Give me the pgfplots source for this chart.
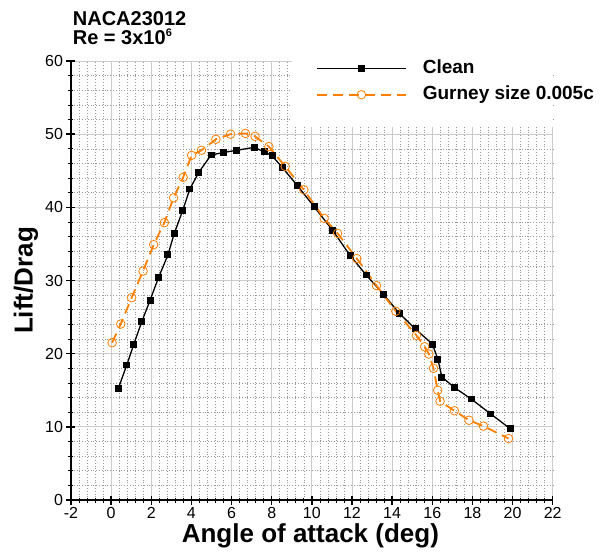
\documentclass[border=0pt]{standalone}
\usepackage{fontspec}
\setmainfont{Liberation Sans}
\usepackage{pgfplots}
\pgfplotsset{compat=1.18}
\definecolor{gorange}{RGB}{255,128,0}
\begin{document}
\begin{tikzpicture}
\begin{axis}[
  scale only axis, width=481.7pt, height=439pt,
  xmin=-2, xmax=22, ymin=0, ymax=60,
  enlargelimits=false,
  xtick={-2,0,...,22}, ytick={0,10,...,60},
  minor x tick num=4, minor y tick num=4,
  axis lines=left,
  axis line style={-, line width=1.8pt},
  major tick style={black, line width=1.4pt},
  minor tick style={black, line width=0.7pt},
  major tick length=9pt, minor tick length=5pt,
  grid=both,
  major grid style={gray!40, line width=0.8pt},
  minor grid style={gray!80, line width=0.6pt, dash pattern=on 0.8pt off 2pt},
  tick label style={font=\fontsize{16}{18}\selectfont},
  xticklabel style={inner sep=1pt, yshift=-2.0pt},
  /pgf/number format/assume math mode=true,
  xlabel={Angle of attack (deg)}, ylabel={Lift/Drag},
  label style={font=\fontsize{26}{30}\selectfont\bfseries, inner sep=0pt},
  xlabel style={at={(axis description cs:0.497,-0.0805)}, anchor=center},
  ylabel style={at={(axis description cs:-0.0934,0.5)}, anchor=center},
  clip=false,
  legend cell align=left,
  legend image code/.code={\draw[mark repeat=2,mark phase=2,#1] plot coordinates {(0pt,0pt) (44.5pt,0pt) (89pt,0pt)};},
  legend style={at={(axis description cs:0.5086,1.0039)}, anchor=north west,
    draw=none, fill=none, inner sep=0pt, outer sep=0pt, row sep=7.7pt,
    font=\fontsize{19}{22}\selectfont\bfseries,
    nodes={inner sep=0pt, text height=14pt, text depth=4.5pt},
    /tikz/every odd column/.append style={column sep=16pt}},
]
\fill[white] (axis cs:9.0,51) rectangle (axis cs:22,60);
\addplot[black, line width=1.3pt, mark=square*, mark size=2.8pt, mark options={solid, fill=black}]
coordinates {
(0.35,15.2) (0.78,18.45) (1.13,21.3) (1.53,24.4) (1.94,27.3) (2.36,30.4)
(2.83,33.5) (3.14,36.4) (3.57,39.6) (3.92,42.5) (4.37,44.8) (4.98,47.15)
(5.60,47.5) (6.26,47.8) (7.13,48.2) (7.62,47.6) (8.02,47.05) (8.54,45.4)
(9.27,43.0) (10.11,40.1) (11.05,36.8) (11.91,33.4) (12.71,30.75) (13.57,28.1)
(14.36,25.5) (15.15,23.4) (16.01,21.3) (16.28,19.2) (16.48,16.8) (17.09,15.4)
(17.94,13.8) (18.92,11.75) (19.88,9.74)
};
\addlegendentry{Clean}
\addplot[gorange, line width=1.8pt, dash pattern=on 10pt off 6pt, mark=o, mark size=4.3pt, mark options={solid, line width=0.8pt, fill=none}]
coordinates {
(0.05,21.5) (0.48,24.05) (1.02,27.65) (1.59,31.3) (2.12,34.9) (2.65,37.9)
(3.11,41.3) (3.59,44.1) (4.01,47.1) (4.50,47.8) (5.22,49.3) (5.95,50.0)
(6.69,50.1) (7.17,49.7) (7.86,48.3) (8.67,45.6) (9.60,42.4) (10.61,38.5)
(11.28,36.45) (12.24,33.0) (13.22,29.3) (14.18,25.8) (15.21,22.5) (15.62,20.95)
(15.83,19.95) (16.06,18.0) (16.27,15.0) (16.39,13.5) (17.10,12.2) (17.83,10.9)
(18.55,10.1) (19.80,8.4)
};
\addlegendentry{Gurney size 0.005c}
\node[anchor=south west, inner sep=0pt, align=left, font=\fontsize{20}{19}\selectfont\bfseries]
  at ([shift={(1.7pt,16pt)}]axis description cs:0,1) {NACA23012\\Re = 3x10\raisebox{8.3pt}{\fontsize{11}{11}\selectfont 6}};
\end{axis}
\pgfresetboundingbox
\path ([shift={(-71pt,-52pt)}]current axis.south west) rectangle ++(605pt,552pt);
\end{tikzpicture}
\end{document}
